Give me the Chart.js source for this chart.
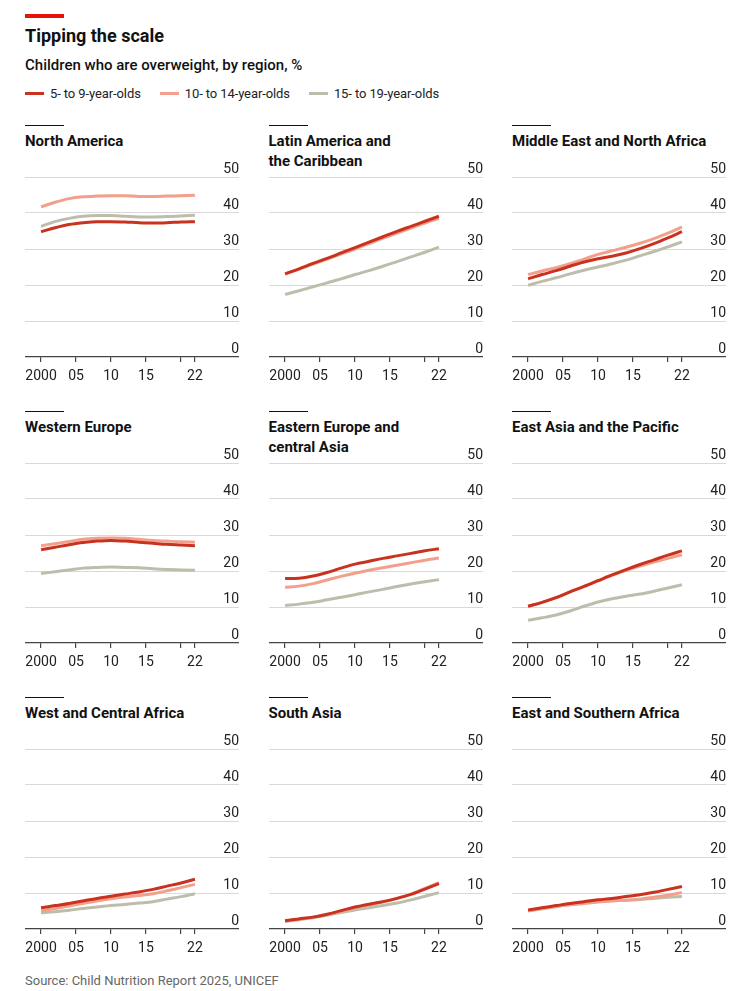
<!DOCTYPE html>
<html>
<head>
<meta charset="utf-8">
<title>Tipping the scale</title>
<script src="https://cdn.jsdelivr.net/npm/chart.js@4.4.1/dist/chart.umd.min.js"></script>
<style>
  body { margin: 0; background: #fff; font-family: Roboto, "Noto Sans", sans-serif; color: #111; }
  #page { position: relative; width: 747px; height: 991px; overflow: hidden; }
  .topbar { position: absolute; left: 25px; top: 14px; width: 39px; height: 4px; background: #e3120b; }
  h1 { position: absolute; left: 25px; top: 24.5px; margin: 0; font-size: 18px; line-height: 22px; font-weight: 700; }
  h2 { position: absolute; left: 25px; top: 56px; margin: 0; font-size: 15px; line-height: 18px; font-weight: 500; }
  #legend { position: absolute; left: 25px; top: 84px; height: 18px; display: flex; align-items: center; font-size: 13px; letter-spacing: -0.1px; color: #222; }
  .key { display: flex; align-items: center; margin-right: 19px; }
  .swatch { width: 19px; height: 3px; margin-right: 6px; }
  .panel { position: absolute; width: 214px; }
  .rule { position: absolute; left: 0; top: 0; width: 39px; height: 1.4px; background: #111; }
  .ptitle { position: absolute; left: 0; top: 6px; font-size: 15px; line-height: 20px; font-weight: 700; white-space: pre-line; }
  .plot { position: absolute; left: 0; width: 214px; height: 232px; }
  #source { position: absolute; left: 25px; top: 972.5px; font-size: 13px; line-height: 16px; color: #666; }
</style>
</head>
<body>
<div id="page">
  <div class="topbar"></div>
  <h1>Tipping the scale</h1>
  <h2>Children who are overweight, by region, %</h2>
  <div id="legend"></div>
  <div id="source">Source: Child Nutrition Report 2025, UNICEF</div>
</div>

<script>
// ---- data (every second year) ----
const years = [2000, 2002, 2004, 2006, 2008, 2010, 2012, 2014, 2016, 2018, 2020, 2022];

const regions = [
  "North America",
  "Latin America and\nthe Caribbean",
  "Middle East and North Africa",
  "Western Europe",
  "Eastern Europe and\ncentral Asia",
  "East Asia and the Pacific",
  "West and Central Africa",
  "South Asia",
  "East and Southern Africa"
];

const seriesNames = ["5- to 9-year-olds", "10- to 14-year-olds", "15- to 19-year-olds"];
const seriesColors = ["#c9321f", "#f2a08c", "#bdbdac"];

// one row per region, same order as regions[]
const age5to9 = [
  [34.8, 35.9, 36.8, 37.3, 37.6, 37.6, 37.5, 37.3, 37.2, 37.3, 37.5, 37.6],
  [23.1, 24.5, 26.0, 27.4, 28.9, 30.4, 31.9, 33.4, 34.9, 36.3, 37.7, 39.1],
  [21.7, 22.9, 24.0, 25.2, 26.4, 27.3, 28.0, 28.9, 30.1, 31.5, 33.1, 34.8],
  [25.9, 26.6, 27.3, 27.9, 28.3, 28.5, 28.3, 28.0, 27.7, 27.4, 27.2, 27.0],
  [17.9, 18.0, 18.6, 19.6, 20.8, 21.9, 22.7, 23.5, 24.2, 24.9, 25.6, 26.2],
  [10.2, 11.3, 12.6, 14.2, 15.7, 17.3, 18.9, 20.4, 21.8, 23.1, 24.4, 25.6],
  [5.9, 6.5, 7.1, 7.8, 8.5, 9.1, 9.7, 10.3, 11.0, 11.9, 12.8, 13.8],
  [2.3, 2.8, 3.3, 4.1, 5.1, 6.1, 6.9, 7.6, 8.5, 9.6, 11.1, 12.6],
  [5.3, 5.9, 6.5, 7.1, 7.6, 8.1, 8.5, 9.0, 9.5, 10.2, 11.0, 11.8]
];

const age10to14 = [
  [41.7, 43.0, 44.0, 44.5, 44.7, 44.8, 44.8, 44.6, 44.6, 44.7, 44.8, 44.9],
  [23.0, 24.4, 25.8, 27.2, 28.6, 30.0, 31.5, 33.0, 34.4, 35.8, 37.2, 38.5],
  [22.9, 23.9, 24.8, 25.9, 27.2, 28.5, 29.5, 30.5, 31.6, 32.9, 34.4, 36.1],
  [27.0, 27.6, 28.2, 28.8, 29.1, 29.2, 29.1, 28.8, 28.5, 28.3, 28.1, 28.0],
  [15.5, 15.8, 16.5, 17.5, 18.5, 19.4, 20.2, 20.9, 21.6, 22.3, 23.0, 23.6],
  [10.2, 11.3, 12.6, 14.2, 15.7, 17.3, 18.8, 20.2, 21.4, 22.5, 23.5, 24.5],
  [5.1, 5.7, 6.4, 7.1, 7.8, 8.4, 8.9, 9.3, 9.8, 10.6, 11.5, 12.4],
  [2.2, 2.7, 3.3, 4.0, 4.9, 5.9, 6.7, 7.5, 8.5, 9.7, 11.3, 12.9],
  [5.0, 5.6, 6.2, 6.7, 7.1, 7.5, 7.8, 8.0, 8.3, 8.8, 9.4, 10.1]
];

const age15to19 = [
  [36.3, 37.6, 38.5, 39.1, 39.3, 39.3, 39.1, 38.9, 38.9, 39.0, 39.2, 39.4],
  [17.4, 18.4, 19.5, 20.6, 21.7, 22.9, 24.0, 25.2, 26.5, 27.8, 29.1, 30.5],
  [19.9, 21.0, 22.0, 23.1, 24.1, 25.0, 25.9, 26.9, 28.1, 29.3, 30.6, 32.0],
  [19.3, 19.8, 20.3, 20.8, 21.0, 21.1, 21.0, 20.9, 20.6, 20.4, 20.3, 20.2],
  [10.4, 10.8, 11.3, 12.0, 12.7, 13.4, 14.2, 14.9, 15.7, 16.4, 17.0, 17.6],
  [6.3, 7.0, 7.8, 8.9, 10.2, 11.4, 12.3, 13.0, 13.6, 14.4, 15.3, 16.2],
  [4.5, 4.8, 5.2, 5.7, 6.1, 6.5, 6.8, 7.2, 7.6, 8.3, 9.0, 9.8],
  [2.1, 2.6, 3.1, 3.8, 4.6, 5.3, 5.9, 6.5, 7.2, 8.1, 9.1, 10.1],
  [5.1, 5.7, 6.3, 6.8, 7.3, 7.7, 7.9, 8.0, 8.2, 8.5, 8.8, 9.0]
];

const tickYears = [2000, 2005, 2010, 2015, 2020, 2022];
const tickLabels = ["2000", "05", "10", "15", "", "22"];
const yTicks = [0, 10, 20, 30, 40, 50];

// ---- layout ----
const colLefts = [25, 268.5, 512];
const ruleTops = [125, 411, 697];
const gridTopGap = 52.3;   // from panel rule to the 50 gridline
const plotPadTop = 20;

/* legend */
function buildLegend() {
  const legend = document.getElementById("legend");
  seriesNames.forEach((name, i) => {
    const key = document.createElement("div");
    key.className = "key";
    key.innerHTML = `<span class="swatch" style="background:${seriesColors[i]}"></span>${name}`;
    legend.appendChild(key);
  });
}

/* one small multiple */
function buildPanel(i) {
  const page = document.getElementById("page");
  const col = i % 3;
  const row = Math.floor(i / 3);

  const panel = document.createElement("div");
  panel.className = "panel";
  panel.style.left = colLefts[col] + "px";
  panel.style.top = ruleTops[row] + "px";
  panel.innerHTML = `<div class="rule"></div><div class="ptitle"></div>`;
  panel.querySelector(".ptitle").textContent = regions[i];

  const plot = document.createElement("div");
  plot.className = "plot";
  plot.style.top = (gridTopGap - plotPadTop) + "px";
  const canvas = document.createElement("canvas");
  plot.appendChild(canvas);
  panel.appendChild(plot);
  page.appendChild(panel);

  const rows = [age5to9[i], age10to14[i], age15to19[i]];
  const datasets = rows.map((vals, s) => ({
    label: seriesNames[s],
    data: years.map((y, k) => ({ x: y, y: vals[k] })),
    borderColor: seriesColors[s],
    borderWidth: 3,
    pointRadius: 0,
    cubicInterpolationMode: "monotone",
    fill: false,
    order: s   // first series on top
  }));

  new Chart(canvas, {
    type: "line",
    data: { datasets },
    options: {
      responsive: true,
      maintainAspectRatio: false,
      animation: false,
      events: [],
      layout: { padding: { top: plotPadTop, left: 0, right: 0, bottom: 0 } },
      plugins: { legend: { display: false }, tooltip: { enabled: false } },
      scales: {
        x: {
          type: "linear",
          min: 1997.7,
          max: 2028.3,
          afterBuildTicks: scale => { scale.ticks = tickYears.map(v => ({ value: v })); },
          afterFit: scale => { scale.height = 32; },
          ticks: {
            autoSkip: false,
            maxRotation: 0,
            padding: 0,
            color: "#222",
            // tall line box pushes the labels down without widening the side padding
            font: { family: "Roboto", size: 14, lineHeight: 2 },
            callback: value => tickLabels[tickYears.indexOf(value)]
          },
          grid: { drawOnChartArea: false, drawTicks: true, tickLength: 5, color: "#444", lineWidth: 1.2 },
          border: { display: true, color: "#444", width: 1.3 }
        },
        y: {
          position: "right",
          min: 0,
          max: 50,
          afterBuildTicks: scale => { scale.ticks = yTicks.map(v => ({ value: v })); },
          afterFit: scale => { scale.width = 0; },
          ticks: {
            mirror: true,
            padding: 0,
            labelOffset: -8,
            color: "#222",
            font: { family: "Roboto", size: 14 }
          },
          grid: {
            drawTicks: false,
            color: ctx => (ctx.tick && ctx.tick.value === 0 ? "rgba(0,0,0,0)" : "#d9d9d9"),
            lineWidth: 1
          },
          border: { display: false }
        }
      }
    }
  });
}

document.addEventListener("DOMContentLoaded", () => {
  buildLegend();
  regions.forEach((_, i) => buildPanel(i));
});
</script>
</body>
</html>
